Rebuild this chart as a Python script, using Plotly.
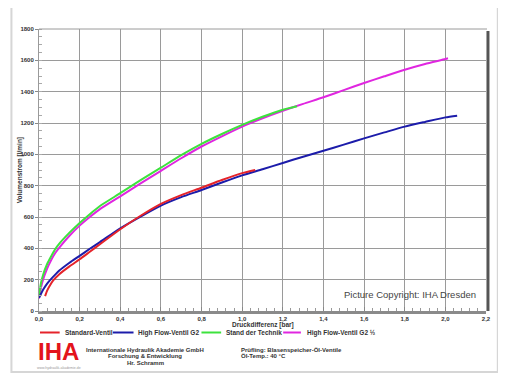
import plotly.graph_objects as go

# ---------------- data ----------------
std_x = [0.03, 0.04, 0.05, 0.07, 0.10, 0.15, 0.20, 0.25, 0.30, 0.40, 0.50, 0.60, 0.70, 0.80, 0.90, 1.00, 1.064]
std_y = [95, 130, 155, 195, 235, 285, 330, 378, 426, 522, 608, 684, 740, 787, 836, 880, 900]

hf_x = [0.0, 0.01, 0.02, 0.04, 0.06, 0.08, 0.10, 0.15, 0.20, 0.25, 0.30, 0.40, 0.50, 0.60, 0.70, 0.80,
        0.90, 1.00, 1.10, 1.20, 1.30, 1.40, 1.50, 1.60, 1.70, 1.80, 1.90, 2.00, 2.058]
hf_y = [85, 110, 135, 175, 205, 232, 258, 308, 352, 397, 440, 528, 603, 673, 727, 772,
        820, 866, 905, 945, 985, 1023, 1062, 1102, 1140, 1177, 1207, 1236, 1247]

sdt_x = [0.0, 0.01, 0.02, 0.04, 0.06, 0.08, 0.10, 0.15, 0.20, 0.25, 0.30, 0.40, 0.50, 0.60, 0.70,
         0.80, 0.90, 1.00, 1.10, 1.20, 1.27]
sdt_y = [100, 180, 230, 300, 350, 395, 430, 500, 562, 618, 670, 752, 835, 915, 995,
         1067, 1130, 1188, 1240, 1285, 1307]

hf2_x = [0.0, 0.01, 0.02, 0.04, 0.06, 0.08, 0.10, 0.15, 0.20, 0.25, 0.30, 0.40, 0.50, 0.60, 0.70,
         0.80, 0.90, 1.00, 1.10, 1.20, 1.30, 1.40, 1.50, 1.60, 1.70, 1.80, 1.90, 2.00, 2.013]
hf2_y = [80, 150, 200, 270, 325, 370, 405, 480, 545, 600, 650, 732, 815, 895, 975,
         1050, 1115, 1177, 1230, 1278, 1322, 1364, 1410, 1455, 1498, 1540, 1577, 1608, 1613]

x_ticks = [0.0, 0.2, 0.4, 0.6, 0.8, 1.0, 1.2, 1.4, 1.6, 1.8, 2.0, 2.2]
x_ticklabels = ["0,0", "0,2", "0,4", "0,6", "0,8", "1,0", "1,2", "1,4", "1,6", "1,8", "2,0", "2,2"]
y_ticks = [0, 200, 400, 600, 800, 1000, 1200, 1400, 1600, 1800]
y_ticklabels = [str(v) for v in y_ticks]

series_names = ["Standard-Ventil", "High Flow-Ventil G2", "Stand der Technik", "High Flow-Ventil G2 ½"]
series_colors = ["#e5232a", "#1c1caa", "#3de23d", "#e026e0"]

# ---------------- geometry helpers (window pixels; page body has an 8px margin) ----------------
OFF = 8
W, H = 506 - OFF, 379 - OFF
L, R, T, B = 32, 486, 29, 311   # plot area in window pixels


def px(x):
    return (x - L) / (R - L)


def py(y):
    return (B - y) / (B - T)


FONT = "Liberation Sans, Arial, sans-serif"

fig = go.Figure()
order = [3, 2, 1, 0]
xs = [std_x, hf_x, sdt_x, hf2_x]
ys = [std_y, hf_y, sdt_y, hf2_y]
for i in order:
    fig.add_trace(go.Scatter(x=xs[i], y=ys[i], mode="lines", name=series_names[i],
                             line=dict(color=series_colors[i], width=2, shape="spline", smoothing=0.6),
                             showlegend=False, hoverinfo="skip"))

fig.update_layout(
    width=W, height=H,
    margin=dict(l=L - OFF, r=506 - R, t=T - OFF, b=379 - B, pad=0),
    paper_bgcolor="white", plot_bgcolor="white",
    font=dict(family=FONT, color="#333333", size=6),
    showlegend=False,
)
fig.update_xaxes(range=[0, 2.2], tickvals=x_ticks, ticktext=x_ticklabels,
                 showgrid=True, gridcolor="#9a9a9a", gridwidth=1,
                 showline=True, linecolor="#8a8a8a", linewidth=3,
                 ticks="inside", ticklen=4, tickcolor="#888", tickwidth=1,
                 minor=dict(dtick=0.04, tick0=0, ticks="inside", ticklen=3, tickcolor="#999", showgrid=False),
                 tickfont=dict(size=6, family=FONT, color="#333", weight="bold"),
                 zeroline=False, fixedrange=True)
fig.update_yaxes(range=[0, 1800], tickvals=y_ticks, ticktext=y_ticklabels,
                 showgrid=True, gridcolor="#9a9a9a", gridwidth=1,
                 showline=True, linecolor="#9a9a9a", linewidth=1,
                 ticks="outside", ticklen=3, tickcolor="#888", tickwidth=1,
                 minor=dict(dtick=50, tick0=0, ticks="inside", ticklen=3, tickcolor="#aaa", showgrid=False),
                 tickfont=dict(size=6, family=FONT, color="#333", weight="bold"),
                 zeroline=False, fixedrange=True)

shapes = []
# outer card border
shapes.append(dict(type="rect", xref="paper", yref="paper", x0=px(4), x1=px(498), y0=py(372), y1=py(5),
                   line=dict(color="#d6d6d6", width=2), layer="below"))
# right frame shadow
shapes.append(dict(type="line", xref="paper", yref="paper", x0=px(488), x1=px(488), y0=py(311), y1=py(31),
                   line=dict(color="#555555", width=3)))
# top frame
shapes.append(dict(type="line", xref="paper", yref="paper", x0=0, x1=px(487), y0=1, y1=1,
                   line=dict(color="#9a9a9a", width=1)))

annotations = []
# legend, drawn by hand
leg_y = 332.5
leg_items = [(33, 53, 56), (107, 128, 131), (197, 217, 220), (280, 298, 302)]
for (x0, x1, xt), name, col in zip(leg_items, series_names, series_colors):
    shapes.append(dict(type="line", xref="paper", yref="paper", x0=px(x0), x1=px(x1), y0=py(leg_y), y1=py(leg_y),
                       line=dict(color=col, width=2)))
    annotations.append(dict(xref="paper", yref="paper", x=px(xt), y=py(leg_y), text=name, showarrow=False,
                            xanchor="left", yanchor="middle",
                            font=dict(size=6.5, family=FONT, color="#333", weight="bold")))

# axis titles
annotations.append(dict(xref="paper", yref="paper", x=px(259), y=py(324.5), text="Druckdifferenz [bar]",
                        showarrow=False, xanchor="center", yanchor="middle",
                        font=dict(size=6.5, family=FONT, color="#333", weight="bold")))
annotations.append(dict(xref="paper", yref="paper", x=px(13), y=py(170), text="Volumenstrom [l/min]",
                        showarrow=False, xanchor="center", yanchor="middle", textangle=-90,
                        font=dict(size=6.5, family=FONT, color="#333", weight="bold")))

# copyright
annotations.append(dict(xref="paper", yref="paper", x=px(478), y=py(294.5), text="Picture Copyright: IHA Dresden",
                        showarrow=False, xanchor="right", yanchor="middle",
                        font=dict(size=9.5, family="Liberation Sans, Arial, sans-serif",
                                  color="#444444")))

# footer
annotations.append(dict(xref="paper", yref="paper", x=px(52), y=py(351), text="IHA",
                        showarrow=False, xanchor="center", yanchor="middle",
                        font=dict(size=24, family="Liberation Sans, Arial, sans-serif", color="#e3141b",
                                  weight="bold")))
annotations.append(dict(xref="paper", yref="paper", x=px(52), y=py(367.5), text="www.hydraulik-akademie.de",
                        showarrow=False, xanchor="center", yanchor="middle",
                        font=dict(size=3.5, family=FONT, color="#999999")))
for txt, yy in [("Internationale Hydraulik Akademie GmbH", 349.5), ("Forschung &amp; Entwicklung", 356),
                ("Hr. Schramm", 362.5)]:
    annotations.append(dict(xref="paper", yref="paper", x=px(140), y=py(yy), text=txt,
                            showarrow=False, xanchor="center", yanchor="middle",
                            font=dict(size=6, family=FONT, color="#333", weight="bold")))
for txt, yy in [("Prüfling: Blasenspeicher-Öl-Ventile", 349.5), ("Öl-Temp.: 40 °C", 356)]:
    annotations.append(dict(xref="paper", yref="paper", x=px(235), y=py(yy), text=txt,
                            showarrow=False, xanchor="left", yanchor="middle",
                            font=dict(size=6, family=FONT, color="#333", weight="bold")))

fig.update_layout(shapes=shapes, annotations=annotations)
fig.write_html("out.html")
